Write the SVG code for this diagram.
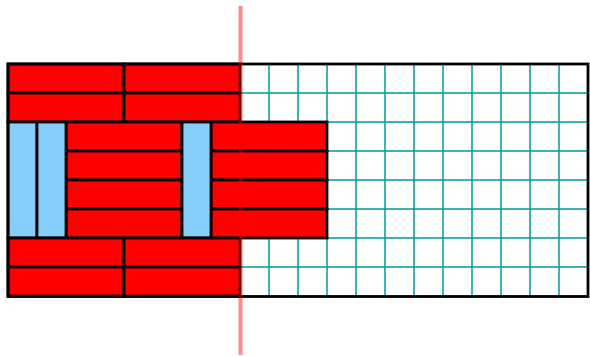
<svg xmlns="http://www.w3.org/2000/svg" width="590" height="356" viewBox="0 0 590 356">
<style>
.grid line{stroke:#009999;stroke-width:1.5}
.brick{fill:#ff0000;stroke:#000;stroke-width:2.8}
.bar{fill:#87cefa;stroke:#000;stroke-width:2.8}
</style>
<rect width="590" height="356" fill="#fff"/>
<g id="grid" class="grid">
<line x1="269" y1="64" x2="269" y2="296"/><line x1="298" y1="64" x2="298" y2="296"/>
<line x1="327" y1="64" x2="327" y2="296"/><line x1="356" y1="64" x2="356" y2="296"/>
<line x1="385" y1="64" x2="385" y2="296"/><line x1="414" y1="64" x2="414" y2="296"/>
<line x1="443" y1="64" x2="443" y2="296"/><line x1="472" y1="64" x2="472" y2="296"/>
<line x1="501" y1="64" x2="501" y2="296"/><line x1="530" y1="64" x2="530" y2="296"/>
<line x1="559" y1="64" x2="559" y2="296"/>
<line x1="240" y1="93" x2="588" y2="93"/><line x1="240" y1="122" x2="588" y2="122"/>
<line x1="240" y1="151" x2="588" y2="151"/><line x1="240" y1="180" x2="588" y2="180"/>
<line x1="240" y1="209" x2="588" y2="209"/><line x1="240" y1="238" x2="588" y2="238"/>
<line x1="240" y1="267" x2="588" y2="267"/>
</g>
<g id="top-bricks">
<rect class="brick" x="8" y="64" width="116" height="29"/><rect class="brick" x="124" y="64" width="116" height="29"/>
<rect class="brick" x="8" y="93" width="116" height="29"/><rect class="brick" x="124" y="93" width="116" height="29"/>
</g>
<g id="middle-bricks">
<rect class="brick" x="66" y="122" width="116" height="29"/><rect class="brick" x="211" y="122" width="116" height="29"/>
<rect class="brick" x="66" y="151" width="116" height="29"/><rect class="brick" x="211" y="151" width="116" height="29"/>
<rect class="brick" x="66" y="180" width="116" height="29"/><rect class="brick" x="211" y="180" width="116" height="29"/>
<rect class="brick" x="66" y="209" width="116" height="29"/><rect class="brick" x="211" y="209" width="116" height="29"/>
</g>
<g id="bars">
<rect class="bar" x="8" y="122" width="29" height="116"/>
<rect class="bar" x="37" y="122" width="29" height="116"/>
<rect class="bar" x="182" y="122" width="29" height="116"/>
</g>
<g id="bottom-bricks">
<rect class="brick" x="8" y="238" width="116" height="29"/><rect class="brick" x="124" y="238" width="116" height="29"/>
<rect class="brick" x="8" y="267" width="116" height="29"/><rect class="brick" x="124" y="267" width="116" height="29"/>
</g>
<rect id="frame" x="8" y="64" width="580" height="232.5" fill="none" stroke="#000" stroke-width="2.8"/>
<line id="cut" x1="240.5" y1="6" x2="240.5" y2="355" stroke="#ff0000" stroke-opacity="0.45" stroke-width="4"/>
</svg>
